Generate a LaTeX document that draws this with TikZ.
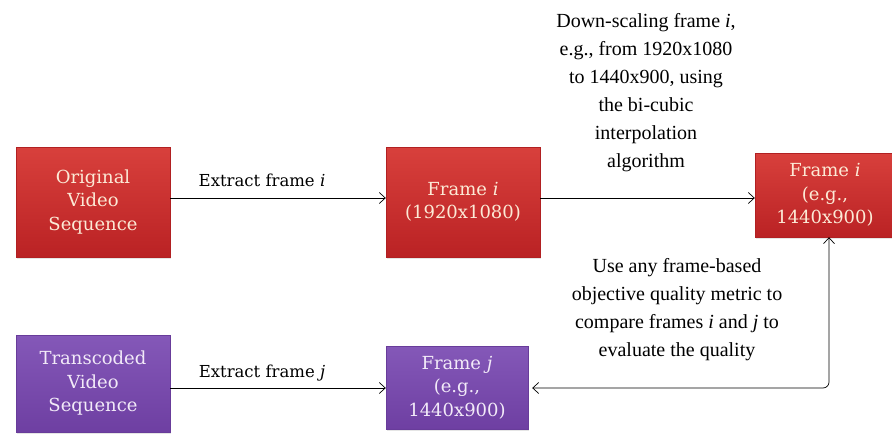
\documentclass[tikz,border=0pt]{standalone}
\usepackage{fontspec}
\setmainfont{Liberation Serif}
\newfontfamily\boxfont{DejaVu Serif}
\usetikzlibrary{arrows.meta,shadows}
\definecolor{redtop}{HTML}{D8403C}
\definecolor{redbot}{HTML}{BA2224}
\definecolor{purtop}{HTML}{8458B8}
\definecolor{purbot}{HTML}{6E3FA2}
\definecolor{redtxt}{HTML}{FCEAD6}
\definecolor{purtxt}{HTML}{F2EAF8}
\begin{document}
\begin{tikzpicture}[x=1pt,y=-1pt,
  basebox/.style={rectangle, inner sep=0pt, align=center,
    font=\boxfont\fontsize{18}{23.5}\selectfont,
    drop shadow={opacity=0.2, shadow xshift=1pt, shadow yshift=-2pt}},
  redbox/.style={basebox, top color=redtop, bottom color=redbot,
    draw=redbot!95!black, line width=0.4pt, text=redtxt},
  purbox/.style={basebox, top color=purtop, bottom color=purbot,
    draw=purbot!95!black, line width=0.4pt, text=purtxt},
  arr/.style={line width=0.7pt, -{Straight Barb[length=6pt,width=11pt]}},
  biarr/.style={line width=0.7pt, {Straight Barb[length=6pt,width=11pt]}-{Straight Barb[length=6pt,width=11pt]}, rounded corners=6pt, shorten <=4pt},
  elabel/.style={font=\boxfont\fontsize{16.5}{20}\selectfont, text=black, inner sep=0pt},
  desc/.style={font=\fontsize{20}{28}\selectfont, align=center, text=black, inner sep=0pt}]
\useasboundingbox (0,0) rectangle (892,436);
\fill[white] (0,0) rectangle (892,436);

\node[redbox, minimum width=154pt, minimum height=110pt] (orig) at (93,202) {Original\\Video\\Sequence};
\node[redbox, minimum width=154pt, minimum height=110pt] (framei) at (463,202) {Frame \textit{i}\\(1920x1080)};
\node[redbox, minimum width=140pt, minimum height=84pt] (framei2) at (825,195) {Frame \textit{i}\\(e.g.,\\1440x900)};
\node[purbox, minimum width=154pt, minimum height=97pt] (trans) at (93,383.5) {Transcoded\\Video\\Sequence};
\node[purbox, minimum width=142pt, minimum height=83pt] (framej) at (457,387.5) {Frame \textit{j}\\(e.g.,\\1440x900)};

\coordinate (ei) at (0,198);
\coordinate (ej) at (0,388);
\coordinate (corner) at (829,388);

\draw[arr] (orig.east |- ei) -- (framei.west |- ei);
\draw[arr] (framei.east |- ei) -- (framei2.west |- ei);
\draw[arr] (trans.east |- ej) -- (framej.west |- ej);
\draw[biarr] (framej.east |- corner) -| (framei2.south -| corner);

\node[elabel] (li) at (262,180) {Extract frame \textit{i}};
\node[elabel] (lj) at (262,373) {Extract frame \textit{j}};
\node[desc] (ds) at (646,93) {Down-scaling frame \textit{i},\\e.g., from 1920x1080\\to 1440x900, using\\the bi-cubic\\interpolation\\algorithm};
\node[desc] (cmp) at (677,310) {Use any frame-based\\objective quality metric to\\compare frames \textit{i} and \textit{j} to\\evaluate the quality};
\end{tikzpicture}
\end{document}
